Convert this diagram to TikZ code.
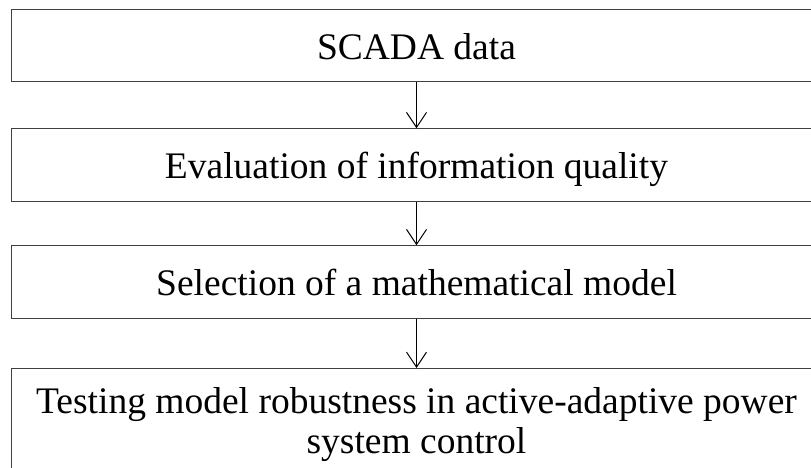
\documentclass[tikz,border=0pt]{standalone}
\usepackage{fontspec}
\setmainfont{Liberation Serif}
\usetikzlibrary{arrows.meta}
\begin{document}
\begin{tikzpicture}[x=1pt,y=-1pt,
  boxbase/.style={draw=black!75,line width=1pt,minimum width=810pt,
    font=\fontsize{37.5}{40}\selectfont},
  box/.style={boxbase,minimum height=72.4pt,inner sep=0pt,text height=27.6pt,text depth=0pt},
  tallbox/.style={boxbase,align=center,inner xsep=10pt,inner ysep=19.4pt},
  flow/.style={line width=1pt,-{Straight Barb[length=15pt,width=20pt]}}]
\useasboundingbox (0,0) rectangle (811,468);
\clip (0,0) rectangle (811,468);
\node[box] (b1) at (416.5,45.5) {SCADA data};
\node[box] (b2) at (416.5,165) {Evaluation of information quality};
\node[box] (b3) at (416.5,282) {Selection of a mathematical model};
\node[tallbox,anchor=north] (b4) at (416.5,368) {Testing model robustness in active-adaptive power\\system control};
\draw[flow] (b1) -- (b2);
\draw[flow] (b2) -- (b3);
\draw[flow] (b3) -- (b4);
\end{tikzpicture}
\end{document}
